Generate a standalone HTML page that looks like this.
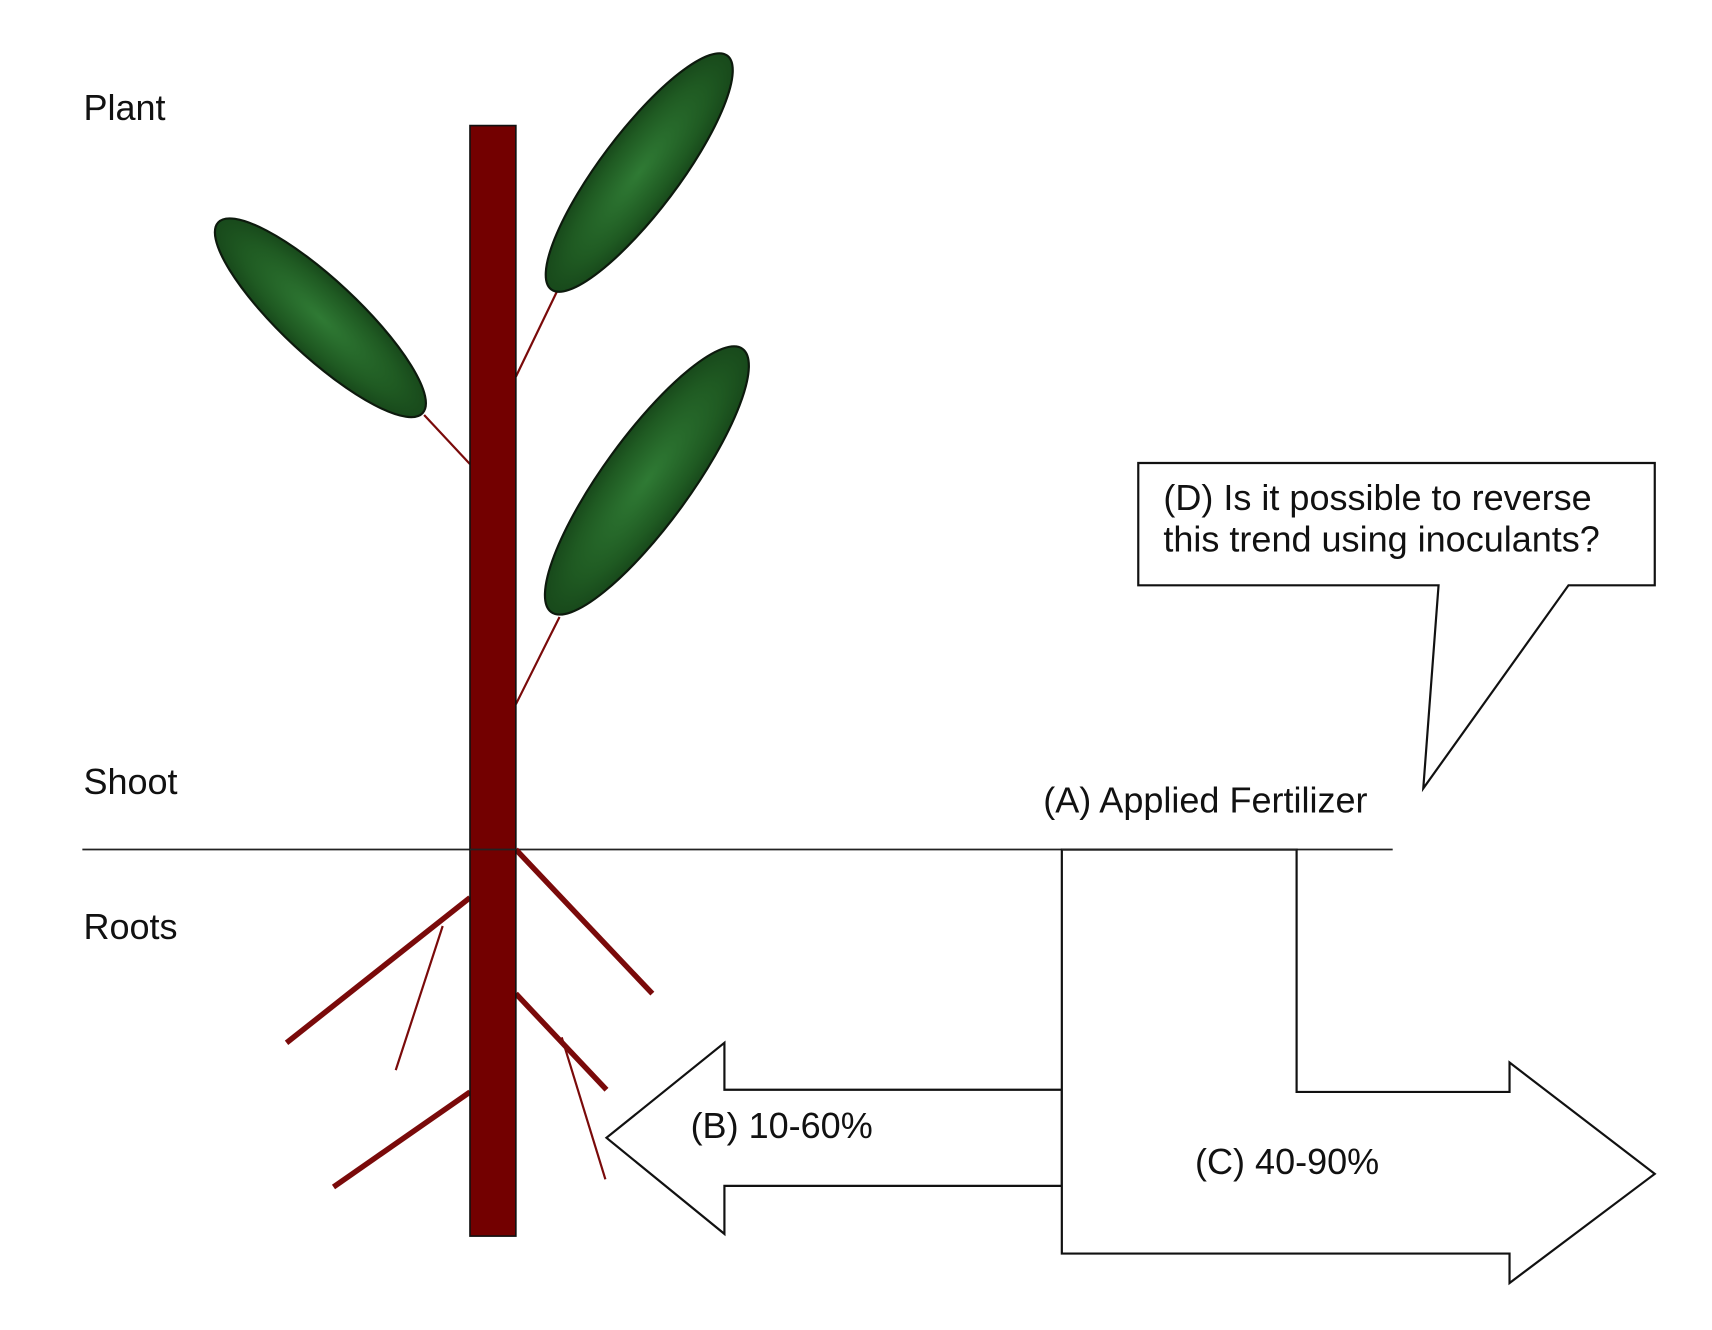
<!DOCTYPE html>
<html><head><meta charset="utf-8"><style>
html,body{margin:0;padding:0;background:#fff;}
svg{display:block;}
text{font-family:"Liberation Sans",Arial,sans-serif;font-size:33px;fill:#111;}
</style></head><body>
<svg width="1712" height="1330" viewBox="0 0 1567 1218" xmlns="http://www.w3.org/2000/svg">
<defs>
<radialGradient id="lf" cx="50%" cy="50%" r="60%">
<stop offset="0" stop-color="#2f7a34"/><stop offset="0.6" stop-color="#1f5a22"/><stop offset="1" stop-color="#133d16"/>
</radialGradient>
</defs>
<rect width="1567" height="1218" fill="#fff"/>
<text x="76" y="110">Plant</text>
<text x="76" y="727">Shoot</text>
<text x="76" y="860">Roots</text>
<g stroke="#7a0a0a" stroke-width="2">
<line x1="388" y1="380" x2="430" y2="425"/>
<line x1="512" y1="262" x2="472" y2="345"/>
<line x1="512" y1="565" x2="472" y2="645"/>
</g>
<g stroke="#0d1a0d" stroke-width="2" fill="url(#lf)">
<ellipse cx="293" cy="291" rx="128" ry="35" transform="rotate(43 293 291)"/>
<ellipse cx="585" cy="158" rx="134" ry="36" transform="rotate(-53 585 158)"/>
<ellipse cx="592" cy="440" rx="149" ry="40" transform="rotate(-54 592 440)"/>
</g>
<line x1="75" y1="778" x2="1275" y2="778" stroke="#222" stroke-width="1.6"/>
<g stroke="#7a0a0a" stroke-width="5">
<line x1="430" y1="822" x2="262" y2="955"/>
<line x1="472" y1="778" x2="597" y2="910"/>
<line x1="472" y1="910" x2="555" y2="998"/>
<line x1="430" y1="1000" x2="305" y2="1087"/>
</g>
<g stroke="#7a0a0a" stroke-width="2">
<line x1="405" y1="848" x2="362" y2="980"/>
<line x1="514" y1="950" x2="554" y2="1080"/>
</g>
<rect x="430" y="115" width="42" height="1017" fill="#730000" stroke="#111" stroke-width="1.5"/>
<line x1="430" y1="778" x2="472" y2="778" stroke="#222" stroke-width="1.6"/>
<polygon points="972,998 663,998 663,955 555,1042 663,1130 663,1086 972,1086" fill="#fff" stroke="#111" stroke-width="2"/>
<text x="632" y="1042">(B) 10-60%</text>
<polygon points="972,778 1187,778 1187,1000 1382,1000 1382,973 1515,1075 1382,1175 1382,1148 972,1148" fill="#fff" stroke="#111" stroke-width="2"/>
<line x1="972" y1="778" x2="1187" y2="778" stroke="#222" stroke-width="2"/>
<text x="1094" y="1075">(C) 40-90%</text>
<text x="955" y="744">(A) Applied Fertilizer</text>
<polygon points="1042,424 1515,424 1515,536 1436,536 1303,722 1317,536 1042,536" fill="#fff" stroke="#111" stroke-width="2"/>
<text x="1065" y="467">(D) Is it possible to reverse</text>
<text x="1065" y="505">this trend using inoculants?</text>
</svg>
</body></html>
